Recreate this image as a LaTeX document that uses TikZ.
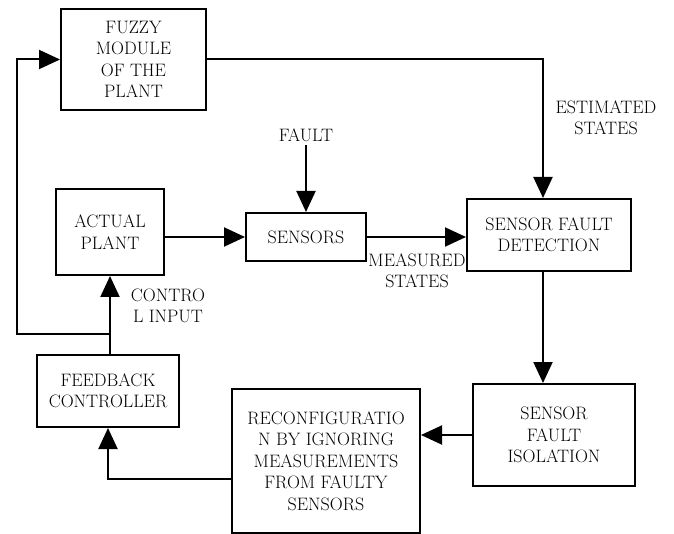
\documentclass[tikz,border=0pt]{standalone}
\usetikzlibrary{arrows.meta,positioning}
\tikzset{
    block/.style={draw, line width=2pt, align=center, inner sep=2pt},
    flow/.style={line width=2pt, -{Triangle[length=21pt,width=19pt]}},
    wire/.style={line width=2pt},
    tag/.style={align=center}
}
\begin{document}
\begin{tikzpicture}[x=1pt, y=-1pt,
        every node/.style={font=\fontsize{18}{21.5}\selectfont}]
    \useasboundingbox (0,0) rectangle (674,534);

    % Blocks
    \node[block, minimum width=145pt, minimum height=101pt] (fuzzy) at (133.5,59.5) {FUZZY\\MODULE\\OF THE\\PLANT};
    \node[block, minimum width=108pt, minimum height=86pt] (plant) at (110,232) {ACTUAL\\PLANT};
    \node[block, minimum width=120pt, minimum height=48pt] (sensors) at (306,237) {SENSORS};
    \node[block, minimum width=164pt, minimum height=72pt] (detect) at (549,235) {SENSOR FAULT\\DETECTION};
    \node[block, minimum width=162pt, minimum height=102pt] (isolate) at (554,435) {SENSOR\\FAULT\\ISOLATION};
    \node[block, minimum width=188pt, minimum height=144pt] (reconfig) at (326,461) {RECONFIGURATIO\\N BY IGNORING\\MEASUREMENTS\\FROM FAULTY\\SENSORS};
    \node[block, minimum width=142pt, minimum height=72pt] (feedback) at (108,391) {FEEDBACK\\CONTROLLER};

    % Labels
    \node[tag] (fault) at (306,135) {FAULT};
    \node[tag] (estimated) at (606,118) {ESTIMATED\\STATES};
    \node[tag] (measured) at (417,271) {MEASURED\\STATES};
    \node[tag] (control) at (168,306) {CONTRO\\L INPUT};

    % Helper points
    \coordinate (trunk) at (543,150);
    \coordinate (tap) at (110,334);
    \coordinate (corner) at (17,334);

    % Connectors
    \draw[flow] (fuzzy.east) -| (detect.north -| trunk);
    \draw[flow] (fault.south) -- (sensors.north);
    \draw[flow] (sensors.west -| plant.east) -- (sensors.west);
    \draw[flow] (sensors.east) -- (sensors.east -| detect.west);
    \draw[flow] (detect.south -| trunk) -- (isolate.north -| trunk);
    \draw[flow] (isolate.west) -- (isolate.west -| reconfig.east);
    \draw[flow] ([yshift=-18pt]reconfig.west) -| (feedback.south);
    \draw[flow] (feedback.north -| plant.south) -- (plant.south);
    \draw[flow] (tap) -- (corner) |- (fuzzy.west);

\end{tikzpicture}
\end{document}
